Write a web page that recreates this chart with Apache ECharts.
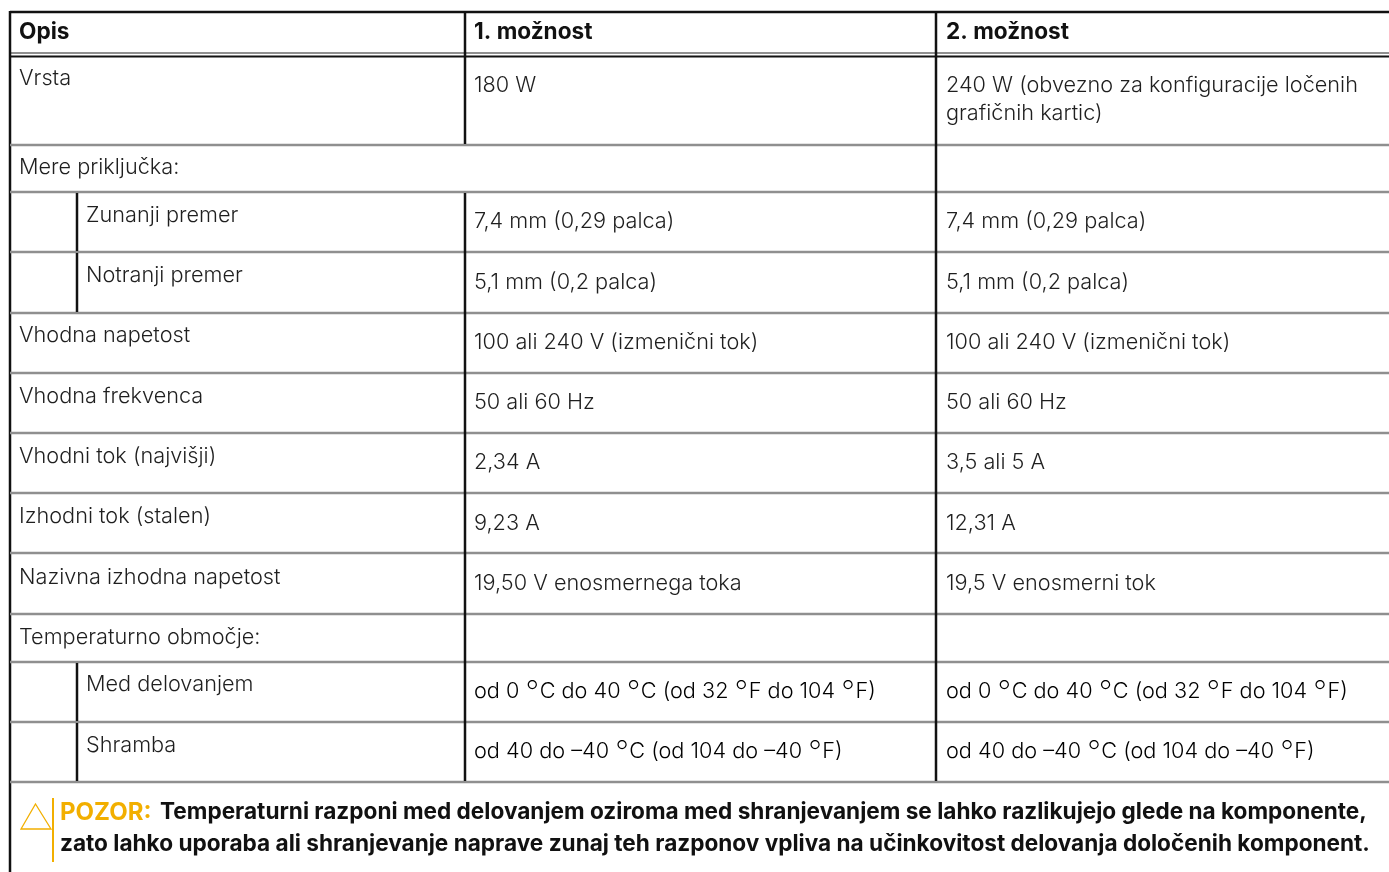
<!DOCTYPE html>
<html><head><meta charset="utf-8">
<style>html,body{margin:0;padding:0;background:#fff}#c{width:1389px;height:872px}</style>
<script src="https://cdn.jsdelivr.net/npm/echarts@6/dist/echarts.min.js"></script>
</head><body><div id="c"></div>
<script>
// Table content
const headers = ['Opis', '1. možnost', '2. možnost'];
const rowLabels = ['Vrsta','Mere priključka:','Zunanji premer','Notranji premer','Vhodna napetost','Vhodna frekvenca','Vhodni tok (najvišji)','Izhodni tok (stalen)','Nazivna izhodna napetost','Temperaturno območje:','Med delovanjem','Shramba'];
const option1 = [['180 W'],[],['7,4 mm (0,29 palca)'],['5,1 mm (0,2 palca)'],['100 ali 240 V (izmenični tok)'],['50 ali 60 Hz'],['2,34 A'],['9,23 A'],['19,50 V enosmernega toka'],[],['od 0 °C do 40 °C (od 32 °F do 104 °F)'],['od 40 do –40 °C (od 104 do –40 °F)']];
const option2 = [['240 W (obvezno za konfiguracije ločenih','grafičnih kartic)'],[],['7,4 mm (0,29 palca)'],['5,1 mm (0,2 palca)'],['100 ali 240 V (izmenični tok)'],['50 ali 60 Hz'],['3,5 ali 5 A'],['12,31 A'],['19,5 V enosmerni tok'],[],['od 0 °C do 40 °C (od 32 °F do 104 °F)'],['od 40 do –40 °C (od 104 do –40 °F)']];
const noteTag = 'POZOR:';
const noteLine1 = 'Temperaturni razponi med delovanjem oziroma med shranjevanjem se lahko razlikujejo glede na komponente,';
const noteLine2 = 'zato lahko uporaba ali shranjevanje naprave zunaj teh razponov vpliva na učinkovitost delovanja določenih komponent.';

// Layout (page pixels, used as the hidden axes' scale)
const W = 1389, H = 872;
const colX = {left:10, sub:77, c1:465, c2:936};
const rowEdges = [56,145,192,252,313,373,433,493,553,614,662,722,782];
const indented = [2,3,10,11];
const labelY = [78,167,215,275,335,396,456,516,577,637,684,745];
const valueY = [85,0,221,282,342,402,462,523,583,0,691,751];
const valueLineGap = 28;
const FONT = 'Inter';
const BODY = {fontFamily:FONT,fontWeight:300,fontSize:21.7,fill:'#1f1f1f'};
const HEAD = {fontFamily:FONT,fontWeight:700,fontSize:22.6,fill:'#111'};
const NOTE = {fontFamily:FONT,fontWeight:700,fontSize:22.6,fill:'#111'};
const TAG = {fontFamily:FONT,fontWeight:700,fontSize:24,fill:'#f2af00'};
const BLACK='#111', GRAY='#8f8f8f', AMBER='#f2af00';

const lines = [];
lines.push([colX.left,12,W,12,BLACK,2.5]);
lines.push([colX.left,53,W,53,GRAY,2]);
lines.push([colX.left,56.5,W,56.5,BLACK,2]);
lines.push([colX.left,11,colX.left,H,BLACK,2.5]);
rowEdges.slice(1).forEach(y=>lines.push([colX.left,y,W,y,GRAY,2.5]));
lines.push([colX.c1,12,colX.c1,144,BLACK,2.5]);
lines.push([colX.c1,193,colX.c1,781,BLACK,2.5]);
lines.push([colX.c2,12,colX.c2,781,BLACK,2.5]);
indented.forEach(i=>lines.push([colX.sub,rowEdges[i]+1,colX.sub,rowEdges[i+1]-1,BLACK,2.5]));
lines.push([53,798,53,862,AMBER,2]);

const texts = [];
headers.forEach((t,i)=>texts.push([[19,474,946][i],32,t,HEAD]));
rowLabels.forEach((t,i)=>{
  texts.push([indented.includes(i)?86:19,labelY[i],t,BODY]);
  option1[i].forEach((s,k)=>texts.push([474,valueY[i]+k*valueLineGap,s,BODY]));
  option2[i].forEach((s,k)=>texts.push([946,valueY[i]+k*valueLineGap,s,BODY]));
});
texts.push([60,812.5,noteTag,TAG]);
texts.push([160,812.5,noteLine1,NOTE]);
texts.push([60,844.5,noteLine2,NOTE]);

const triangle = [[35.5,804],[51,829],[21,829]];

const chart = echarts.init(document.getElementById('c'),null,{renderer:'canvas'});
chart.setOption({
  animation:false, backgroundColor:'#fff',
  grid:{left:0,right:0,top:0,bottom:0},
  xAxis:{type:'value',min:0,max:W,show:false},
  yAxis:{type:'value',min:0,max:H,inverse:true,show:false},
  series:[
    {type:'custom',silent:true,clip:false,data:lines,encode:{x:0,y:1},
     renderItem:(p,api)=>{
       const a=api.coord([api.value(0),api.value(1)]),b=api.coord([api.value(2),api.value(3)]);
       const d=lines[p.dataIndex];
       return {type:'line',shape:{x1:a[0],y1:a[1],x2:b[0],y2:b[1]},style:{stroke:d[4],lineWidth:d[5]}};
     }},
    {type:'custom',silent:true,clip:false,data:[[0,0]],encode:{x:0,y:1},
     renderItem:(p,api)=>({type:'polygon',shape:{points:triangle.map(q=>api.coord(q))},style:{fill:'none',stroke:AMBER,lineWidth:1.3}})},
    {type:'custom',silent:true,clip:false,data:texts.map(t=>[t[0],t[1]]),encode:{x:0,y:1},
     renderItem:(p,api)=>{
       const t=texts[p.dataIndex],c=api.coord([t[0],t[1]]);
       const base={verticalAlign:'middle',align:'left'};
       if(t[2].includes('°')){
         const parts=t[2].split('°');
         const rich={a:{fontFamily:FONT,fontWeight:300,fontSize:t[3].fontSize,color:t[3].fill,lineHeight:26,verticalAlign:'middle'},
                     d:{fontFamily:FONT,fontWeight:200,fontSize:30,color:t[3].fill,lineHeight:26,verticalAlign:'middle',padding:[4,0.5,0,0]}};
         const s=parts.map(x=>'{a|'+x+'}').join('{d|°}');
         return {type:'text',x:c[0],y:c[1],style:Object.assign(base,{text:s,rich})};
       }
       return {type:'text',x:c[0],y:c[1],style:Object.assign({text:t[2]},base,t[3])};
     }}
  ]
});
</script></body></html>
